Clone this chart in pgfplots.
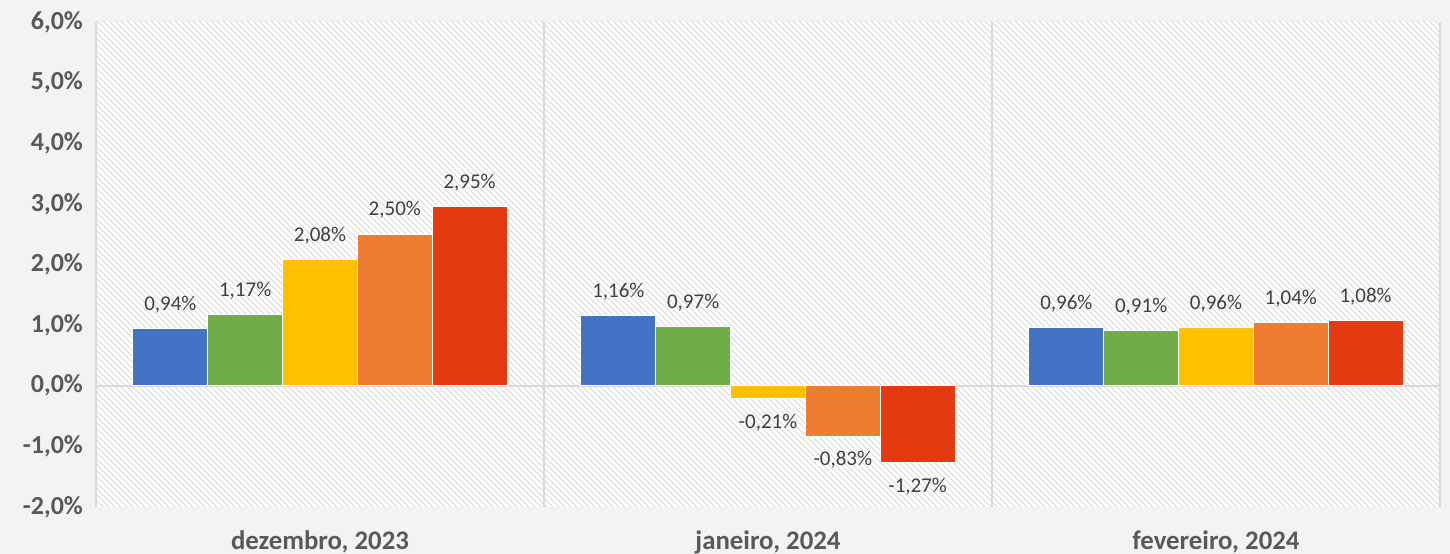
\documentclass[border=0pt]{standalone}
\usepackage{pgfplots}
\pgfplotsset{compat=1.18}
\usepackage{fontspec}
\setmainfont{Carlito}
\usetikzlibrary{patterns,backgrounds}
\definecolor{cblue}{HTML}{4472C4}
\definecolor{cgreen}{HTML}{70AD47}
\definecolor{cyellow}{HTML}{FFC000}
\definecolor{corange}{HTML}{ED7D31}
\definecolor{cred}{HTML}{E33A10}
\definecolor{tickgray}{HTML}{595959}
\definecolor{lblgray}{HTML}{404040}
\definecolor{pagebg}{HTML}{F3F3F3}
\definecolor{gridc}{HTML}{D9D9D9}
\begin{document}
\begin{tikzpicture}
\begin{axis}[
  name=ax,
  scale only axis, width=672pt, height=242.5pt,
  xmin=-0.5, xmax=2.5, ymin=-2, ymax=6,
  /pgf/number format/assume math mode=true,
  axis background/.style={fill=white, postaction={pattern=north west lines, pattern color=gridc}},
  axis line style={draw=none},
  major tick length=0pt, minor tick length=0pt,
  ytick={-2,-1,0,1,2,3,4,5,6},
  yticklabel={\pgfmathprintnumber[fixed,fixed zerofill,precision=1,use comma]{\tick}\%},
  yticklabel style={font=\bfseries\fontsize{13}{15}\selectfont, text=tickgray, xshift=-3pt},
  xtick={0,1,2},
  xticklabels={{dezembro, 2023},{janeiro, 2024},{fevereiro, 2024}},
  xticklabel style={font=\bfseries\fontsize{13.4}{15}\selectfont, text=tickgray, yshift=-8.5pt},
  minor xtick={-0.5,0.5,1.5,2.5},
  xminorgrids, minor grid style={gridc, line width=0.9pt},
  extra y ticks={0}, extra y tick labels={},
  extra y tick style={grid=major, grid style={gridc, line width=0.9pt}},
  ybar, bar width=0.167,
  point meta=y,
  nodes near coords={\pgfmathprintnumber[fixed,fixed zerofill,precision=2,use comma]{\pgfplotspointmeta}\%},
  nodes near coords align=vertical,
  every node near coord/.append style={font=\fontsize{10.5}{12}\selectfont, text=lblgray, inner ysep=7.5pt},
]
\addplot[fill=cblue, draw=white, line width=0.5pt, bar shift=-0.334] coordinates {(0,0.94) (1,1.16) (2,0.96)};
\addplot[fill=cgreen, draw=white, line width=0.5pt, bar shift=-0.167] coordinates {(0,1.17) (1,0.97) (2,0.91)};
\addplot[fill=cyellow, draw=white, line width=0.5pt, bar shift=0] coordinates {(0,2.08) (1,-0.21) (2,0.96)};
\addplot[fill=corange, draw=white, line width=0.5pt, bar shift=0.167] coordinates {(0,2.50) (1,-0.83) (2,1.04)};
\addplot[fill=cred, draw=white, line width=0.5pt, bar shift=0.334] coordinates {(0,2.95) (1,-1.27) (2,1.08)};
\end{axis}
\begin{scope}[on background layer]
\fill[pagebg] ([xshift=-48pt,yshift=-23.5pt]ax.south west) rectangle ([xshift=5pt,yshift=11pt]ax.north east);
\end{scope}
\pgfresetboundingbox
\path ([xshift=-48pt,yshift=-23.5pt]ax.south west) rectangle ([xshift=5pt,yshift=11pt]ax.north east);
\end{tikzpicture}
\end{document}
